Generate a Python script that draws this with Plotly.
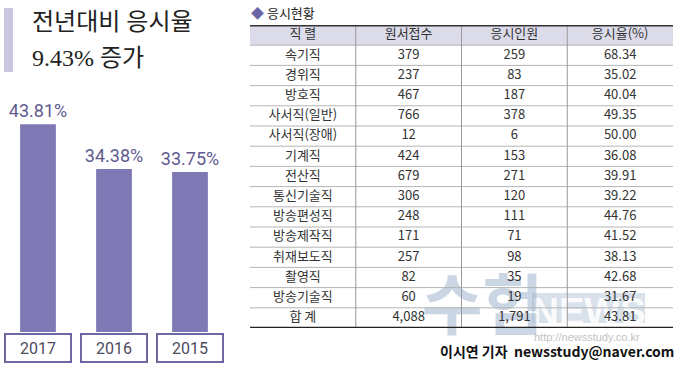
import plotly.graph_objects as go

# ---- data ----
years = ["2017", "2016", "2015"]
year_rates = [43.81, 34.38, 33.75]

headers = ["직 렬", "원서접수", "응시인원", "응시율(%)"]
jobs = ["속기직", "경위직", "방호직", "사서직(일반)", "사서직(장애)", "기계직", "전산직",
        "통신기술직", "방송편성직", "방송제작직", "취재보도직", "촬영직", "방송기술직"]
applicants = [379, 237, 467, 766, 12, 424, 679, 306, 248, 171, 257, 82, 60]
takers = [259, 83, 187, 378, 6, 153, 271, 120, 111, 71, 98, 35, 19]
rates = [68.34, 35.02, 40.04, 49.35, 50.00, 36.08, 39.91, 39.22, 44.76, 41.52, 38.13, 42.68, 31.67]
total_label = "합 계"
total_applicants = 4088
total_takers = 1791
total_rate = 43.81

W, H = 680, 370
def px(x):
    return x / W
def py(y):
    return 1 - y / H

KR = "Noto Sans CJK KR"
fig = go.Figure()

# ---- bar chart ----
fig.add_trace(go.Bar(
    x=years, y=year_rates, xaxis="x", yaxis="y",
    marker=dict(color="#7e79b4", line=dict(width=0)),
    texttemplate="%{y:.2f}%", textposition="outside", cliponaxis=False,
    constraintext="none",
    textfont=dict(family="Roboto", size=18, color="#5f5b8f"),
    hoverinfo="skip", showlegend=False,
))

# ---- table as text on its own axes ----
col_values = [
    [headers[0]] + jobs + [total_label],
    [headers[1]] + [f"{v:,}" for v in applicants] + [f"{total_applicants:,}"],
    [headers[2]] + [f"{v:,}" for v in takers] + [f"{total_takers:,}"],
    [headers[3]] + [f"{v:.2f}" for v in rates] + [f"{total_rate:.2f}"],
]
nrows = len(col_values[0])
for ci, vals in enumerate(col_values):
    fig.add_trace(go.Scatter(
        x=[ci + 0.5] * nrows, y=list(range(nrows)), text=vals, mode="text",
        xaxis="x2", yaxis="y2",
        textfont=dict(family=KR, size=13, color="#333333"),
        hoverinfo="skip", showlegend=False,
    ))

shapes = []
# watermark (below the table text)
shapes.append(dict(type="rect", xref="paper", yref="paper", x0=px(532), x1=px(645), y0=py(323), y1=py(293),
                   fillcolor="rgba(170,188,210,0.45)", line=dict(width=0), layer="below",
                   label=dict(text="NEWS", textposition="middle center",
                              font=dict(family="Liberation Sans", size=38, weight=700,
                                        color="rgba(255,255,255,0.9)"))))
shapes.append(dict(type="rect", xref="paper", yref="paper", x0=px(425), x1=px(540), y0=py(340), y1=py(282),
                   fillcolor="rgba(0,0,0,0)", line=dict(width=0), layer="below",
                   label=dict(text="수험", textposition="middle center",
                              font=dict(family=KR, size=66, weight=700, color="rgba(140,165,195,0.45)"))))
# header fill
shapes.append(dict(type="rect", xref="x2", yref="y2", x0=0, x1=4, y0=-0.5, y1=0.5,
                   fillcolor="#dcdbea", line=dict(width=0), layer="below"))
# row lines
for i in range(nrows - 1):
    shapes.append(dict(type="line", xref="x2", yref="y2", x0=0, x1=4, y0=i + 0.5, y1=i + 0.5,
                       line=dict(color="#b4b4b4", width=1)))
# vertical lines
for c in range(1, 4):
    shapes.append(dict(type="line", xref="x2", yref="y2", x0=c, x1=c, y0=-0.5, y1=nrows - 0.5,
                       line=dict(color="#999999", width=1)))
# thick top / bottom
shapes.append(dict(type="line", xref="x2", yref="y2", x0=0, x1=4, y0=-0.5, y1=-0.5,
                   line=dict(color="#333333", width=3)))
shapes.append(dict(type="line", xref="x2", yref="y2", x0=0, x1=4, y0=nrows - 0.5, y1=nrows - 0.5,
                   line=dict(color="#222222", width=2.5)))
# left accent bar
shapes.append(dict(type="rect", xref="paper", yref="paper", x0=px(4), x1=px(13), y0=py(72), y1=py(8),
                   fillcolor="#c9c7df", line=dict(width=0)))

annotations = []
# year boxes (category index positions)
for i, yr in enumerate(years):
    annotations.append(dict(x=i, xref="x", y=py(348), yref="paper", text=yr, showarrow=False,
                            font=dict(family="Roboto", size=16, color="#4d4a5e"),
                            bordercolor="#6e68a3", borderwidth=2, borderpad=2,
                            width=60, height=22, bgcolor="white",
                            xanchor="center", yanchor="middle"))
# title
annotations.append(dict(x=px(30), y=py(22), xref="paper", yref="paper", text="전년대비 응시율",
                        showarrow=False, xanchor="left", yanchor="middle",
                        font=dict(family="Liberation Serif, " + KR, size=24, color="#222222")))
annotations.append(dict(x=px(30), y=py(58), xref="paper", yref="paper", text="9.43% 증가",
                        showarrow=False, xanchor="left", yanchor="middle",
                        font=dict(family="Liberation Serif, " + KR, size=24, color="#222222")))
# table caption
annotations.append(dict(x=px(249), y=py(13), xref="paper", yref="paper",
                        text="<span style='color:#6b64a8'>◆</span> 응시현황",
                        showarrow=False, xanchor="left", yanchor="middle",
                        font=dict(family=KR, size=13, color="#222222")))
annotations.append(dict(x=px(587), y=py(337), xref="paper", yref="paper", text="http://newsstudy.co.kr",
                        showarrow=False, xanchor="center", yanchor="middle",
                        font=dict(family="Liberation Sans", size=11, color="#c2c2c2")))
# byline
annotations.append(dict(x=px(676), y=py(351), xref="paper", yref="paper",
                        text="이시연 기자  newsstudy@naver.com",
                        showarrow=False, xanchor="right", yanchor="middle",
                        font=dict(family=KR, size=14, weight=700, color="#111111")))

fig.update_layout(
    width=W, height=H, margin=dict(l=0, r=0, t=0, b=0),
    paper_bgcolor="white", plot_bgcolor="white",
    bargap=0.53,
    xaxis=dict(domain=[0, px(228)], type="category", range=[-0.5, len(years) - 0.5],
               visible=False, fixedrange=True),
    yaxis=dict(domain=[38 / H, 1], range=[0, 70], visible=False, fixedrange=True),
    xaxis2=dict(domain=[px(250), px(673)], range=[0, 4], visible=False, anchor="y2", fixedrange=True),
    yaxis2=dict(domain=[py(328), py(25)], range=[nrows - 0.5, -0.5], visible=False, anchor="x2",
                fixedrange=True),
    shapes=shapes, annotations=annotations,
)

fig.write_html("out.html", config={"displayModeBar": False},
               post_script="document.body.style.margin='0';document.body.style.overflow='hidden';")
